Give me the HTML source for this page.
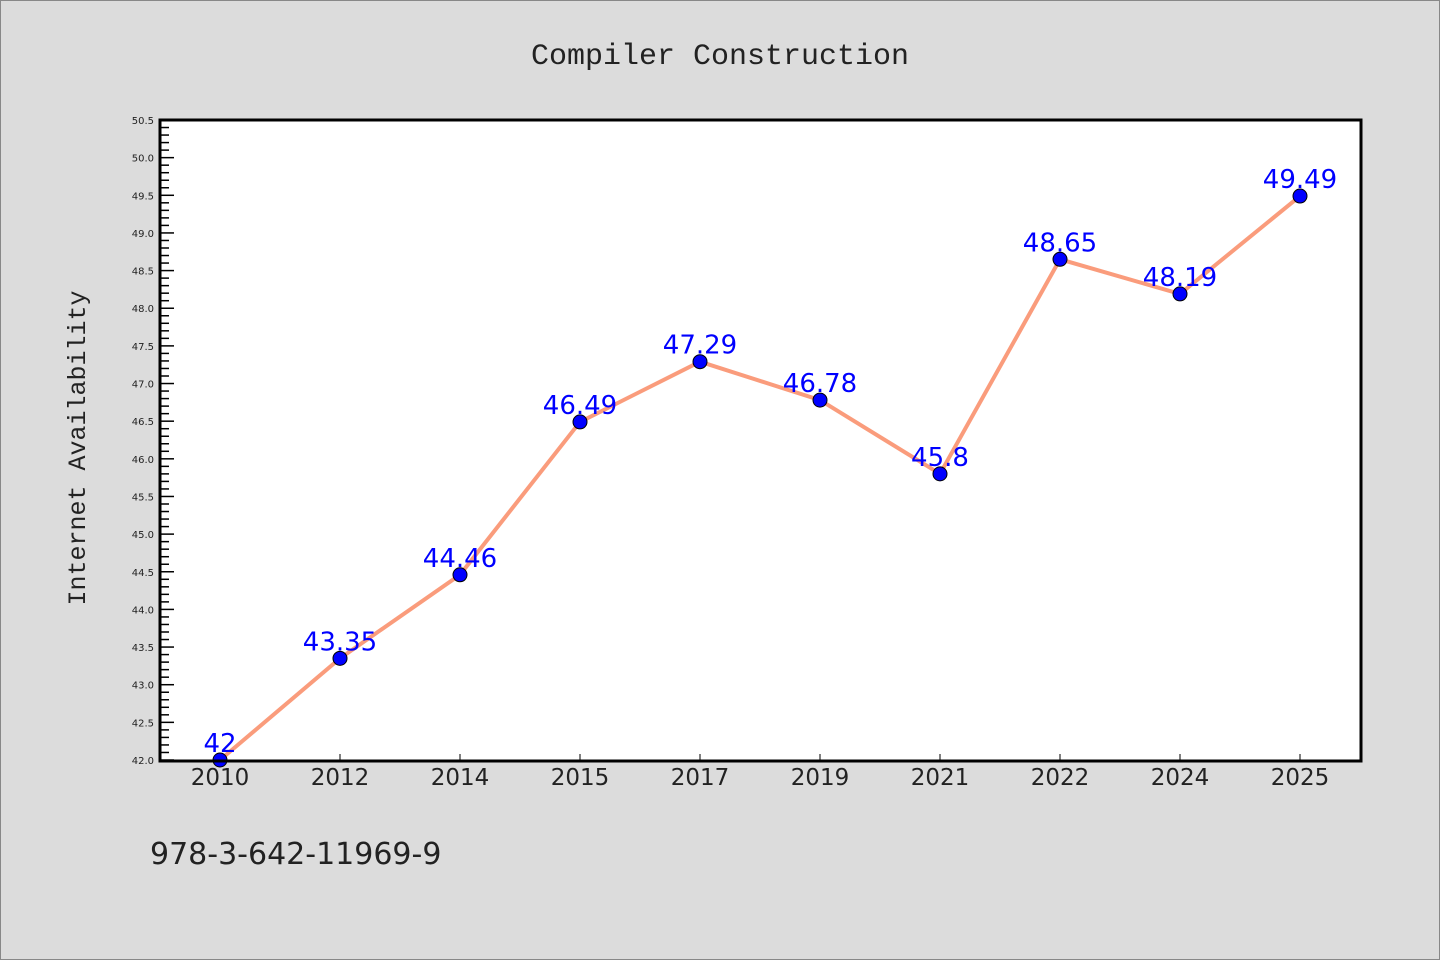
<!DOCTYPE html>
<html><head><meta charset="utf-8"><style>
html,body{margin:0;padding:0;}
body{width:1440px;height:960px;background:#dcdcdc;overflow:hidden;}
svg{display:block;}
</style></head><body>
<svg width="1440" height="960" viewBox="0 0 1440 960">
<rect x="0.5" y="0.5" width="1439" height="959" fill="#dcdcdc" stroke="#888"/>
<text x="720" y="64" text-anchor="middle" font-family="'Liberation Mono','DejaVu Sans Mono',monospace" font-size="30" fill="#222">Compiler Construction</text>
<text transform="translate(85,448) rotate(-90)" text-anchor="middle" font-family="'Liberation Mono','DejaVu Sans Mono',monospace" font-size="25" fill="#222">Internet Availability</text>
<text x="150" y="864" font-family="'DejaVu Sans','Liberation Sans',sans-serif" font-size="30" fill="#222">978-3-642-11969-9</text>
<rect x="160" y="120" width="1201" height="641" fill="#fff"/>
<g id="ticks"></g>
<g id="marks"></g>
<rect x="160" y="120" width="1201" height="641" fill="none" stroke="#000" stroke-width="3"/>
</svg>
<script>
const categories=["2010","2012","2014","2015","2017","2019","2021","2022","2024","2025"];
const values=[42,43.35,44.46,46.49,47.29,46.78,45.8,48.65,48.19,49.49];
const labels=["42","43.35","44.46","46.49","47.29","46.78","45.8","48.65","48.19","49.49"];
const yMin=42.0,yMax=50.5;
const NS="http://www.w3.org/2000/svg";
const L=160,R=1361,T=120,B=760;
function x(i){return 220+i*(1300-220)/(categories.length-1);}
function y(v){return B-(v-yMin)/(yMax-yMin)*(B-T);}
function mk(tag,a,p){const e=document.createElementNS(NS,tag);for(const k in a)e.setAttribute(k,a[k]);p.appendChild(e);return e;}
const tg=document.getElementById('ticks'),mg=document.getElementById('marks');
for(let k=0;k<=Math.round((yMax-yMin)*10);k++){
  const v=yMin+k*0.1,yy=y(v),major=k%5===0;
  const t=mk('line',{x1:L,x2:L+(major?14:9),y1:yy,y2:yy,stroke:'#000','stroke-width':1.5},tg);
  
  
  if(major){
    const tx=mk('text',{x:L-6,y:yy+4,'text-anchor':'end','font-family':"'DejaVu Sans',sans-serif",'font-size':10,fill:'#222'},tg);
    tx.textContent=v.toFixed(1);
    
    
  }
}
categories.forEach((c,i)=>{
  const t=mk('line',{x1:x(i),x2:x(i),y1:B,y2:B-6,stroke:'#000','stroke-width':1},tg);
  
  
  const tx=mk('text',{x:x(i),y:785,'text-anchor':'middle','font-family':"'DejaVu Sans',sans-serif",'font-size':23,fill:'#222'},tg);
  tx.textContent=c;
  
  
});
const line=mk('polyline',{points:values.map((v,i)=>x(i)+','+y(v)).join(' '),fill:'none',stroke:'#fa9c7c','stroke-width':4},mg);


values.forEach((v,i)=>{
  const c=mk('circle',{cx:x(i),cy:y(v),r:7,fill:'#0000ff',stroke:'#000','stroke-width':1},mg);
  
  
});
values.forEach((v,i)=>{
  const t=mk('text',{x:x(i),y:y(v)-8,'text-anchor':'middle','font-family':"'DejaVu Sans',sans-serif",'font-size':26,fill:'#0000ff'},mg);
  t.textContent=labels[i];
  
  
});
</script>
</body></html>
